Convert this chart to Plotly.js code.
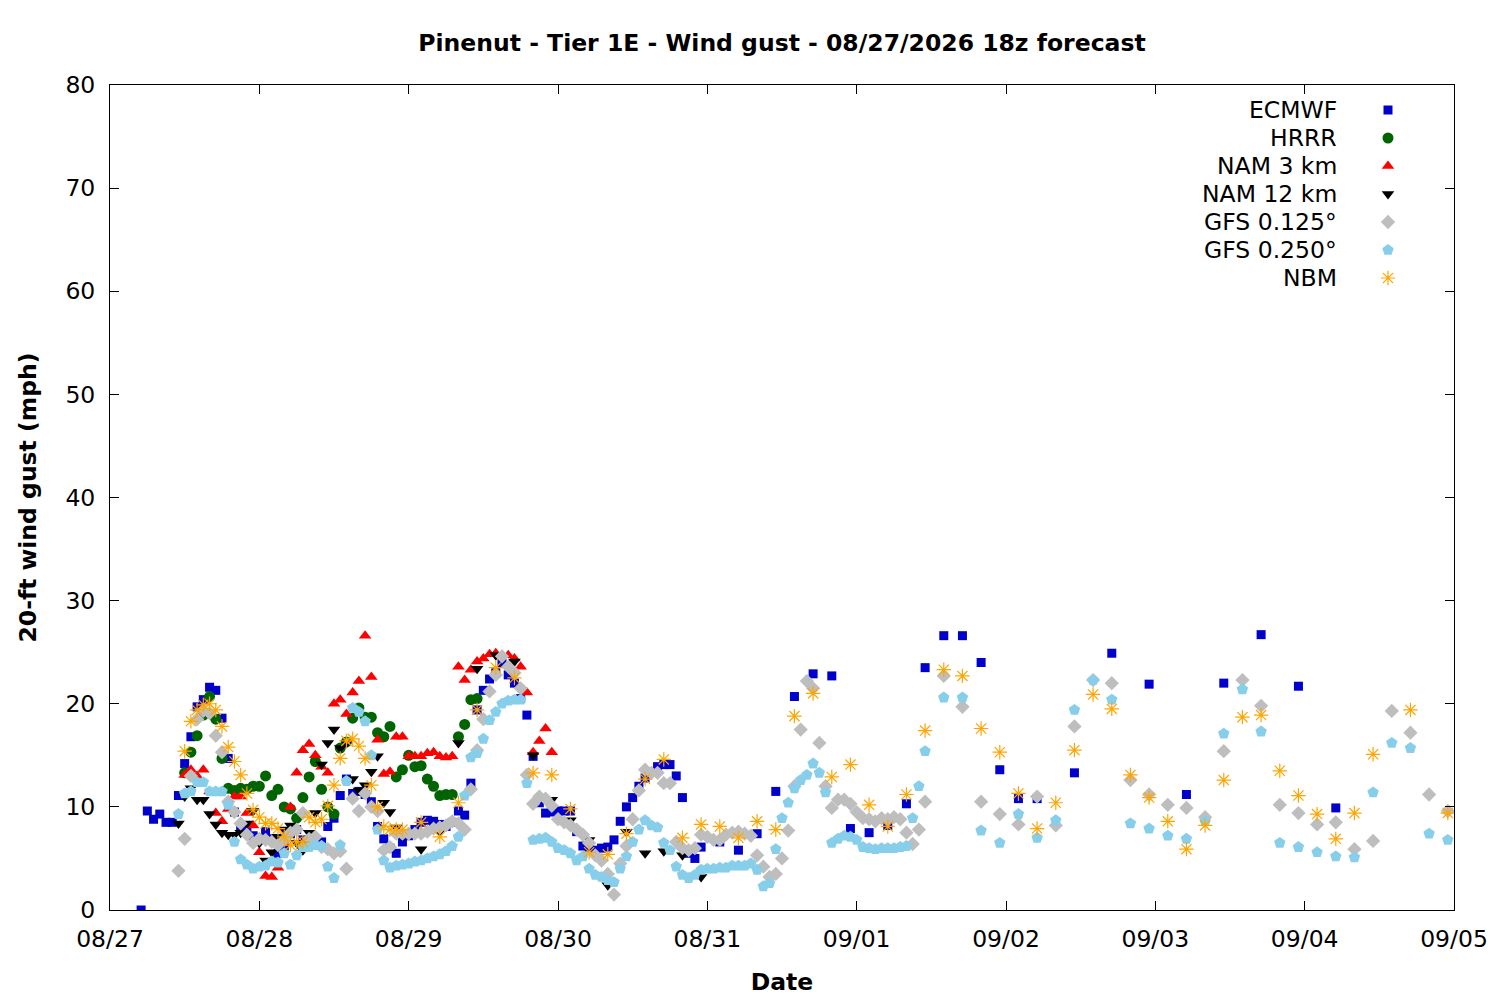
<!DOCTYPE html>
<html>
<head>
<meta charset="utf-8">
<script src="https://cdn.plot.ly/plotly-3.0.1.min.js"></script>
<style>
  html, body { margin: 0; padding: 0; background: #ffffff; }
  #chart { width: 1500px; height: 1000px; }
</style>
</head>
<body>
<div id="chart"></div>
<script>
// Forecast hours are counted from 08/27 00:00 local time.
// Each run is hourly at first, then 3-hourly (and 6-hourly for some).

// ECMWF
const ecmwfHourlyStart = 5;
const ecmwfHourly = [
  0, 9.6, 8.8, 9.3, 8.5, 8.5, 11.1, 14.2, 16.8, 19.7,
  20.4, 21.6, 21.3, 18.6, 14.7, 9.5, 8.1, 7.8, 7.2, 7.0,
  7.6, 6.9, 5.5, 6.2, 7.4, 7.8, 6.8, 6.4, 6.5, 6.6,
  8.1, 8.9, 11.1, 12.7, 11.3, 11.5, 11.2, 10.5, 8.1, 6.9,
  6.0, 5.5, 6.6, 7.2, 7.8, 8.5, 8.7, 8.6, 8.3, 8.1,
  8.5, 9.6, 9.2, 12.3, 19.4, 21.3, 22.4, 23.0, 23.9, 22.8,
  22.0, 20.5, 18.9, 14.9, 10.4, 9.4, 9.5, 9.6, 9.6, 9.6,
  7.6, 6.2, 6.1, 5.8, 6.0, 6.1, 6.8, 8.6, 10.0, 10.9,
  12.0, 12.8, 13.4, 13.9, 14.1, 14.1, 13.0, 10.9, 5.5, 5.0,
  6.1
];
const ecmwf3hStart = 98;
const ecmwf3h = [6.6, 5.8, 7.4, 11.5, 20.7, 22.9, 22.7, 7.9, 7.5, 8.2,
  10.3, 23.5, 26.6, 26.6, 24.0, 13.6, 10.8, 10.8];
const ecmwf6hStart = 155;
const ecmwf6h = [13.3, 24.9, 21.9, 11.2, 22.0, 26.7, 21.7, 9.9];

// HRRR
const hrrrStart = 12;
const hrrr = [
  13.3, 15.3, 16.9, 18.9, 20.7, 18.5, 14.7, 11.8, 11.6, 11.8,
  11.7, 12.0, 12.0, 13.0, 11.1, 11.7, 10.0, 9.8, 8.9, 10.9,
  12.9, 14.4, 11.7, 10.0, 9.3, 15.7, 16.3, 18.6, 19.6, 18.7,
  18.7, 17.2, 16.8, 17.8, 12.9, 13.6, 15.0, 13.9, 14.0, 12.7,
  12.0, 11.1, 11.2, 11.2, 16.8, 18.0, 20.4, 20.5
];

// NAM 3 km
const nam3Start = 12;
const nam3 = [
  13.1, 13.6, 13.0, 13.6, 11.5, 9.4, 8.6, 9.8, 11.0, 11.0,
  9.4, 8.2, 5.6, 3.3, 3.2, 4.1, 6.5, 10.0, 13.3, 15.5,
  16.1, 15.0, 13.9, 13.3, 20.0, 20.4, 19.0, 21.1, 22.2, 26.6,
  22.6, 16.5, 13.2, 13.4, 16.8, 16.8, 14.9, 14.9, 14.9, 15.2,
  15.3, 14.9, 14.8, 14.9, 23.6, 22.3, 23.3, 24.1, 24.4, 24.8,
  24.9, 24.7, 24.7, 24.4, 23.6, 21.1, 15.3, 16.4, 17.6, 15.3
];

// NAM 12 km
const nam12HourlyStart = 11;
const nam12Hourly = [
  8.4, 11.0, 11.8, 10.7, 10.7, 9.3, 8.3, 7.5, 7.3, 7.3,
  7.5, 8.4, 9.6, 6.5, 4.8, 5.6, 7.1, 7.8, 8.2, 6.5,
  5.8, 7.5, 9.4, 14.1, 16.2, 17.5, 15.7, 16.2, 12.7, 11.6,
  12.1, 13.4, 14.9, 10.4, 9.5, 8.0, 7.2
];
const nam12ThreeHourStart = 50;
const nam12ThreeHour = [5.9, 7.6, 16.2, 23.4, 24.7, 24.1, 15.0, 10.7, 8.7, 6.8,
  2.4, 7.6, 5.5, 5.7, 5.3, 3.2];

// GFS 0.125 deg
const gfs125HourlyStart = 11;
const gfs125Hourly = [
  3.8, 6.9, 13.0, 18.5, 19.3, 19.1, 16.9, 15.3, 10.5, 9.5,
  8.4, 7.3, 6.5, 6.9, 6.8, 6.6, 6.3, 6.8, 7.5, 7.8,
  9.4, 6.9, 7.1, 6.1, 5.9, 5.5, 5.7, 4.0, 10.8, 9.6,
  11.3, 10.0, 9.6, 5.8, 6.1, 7.4, 7.4, 7.4, 7.4, 7.4,
  7.6, 7.9, 8.0, 8.2, 8.6, 8.4, 7.8, 11.7, 15.5, 18.5,
  21.2, 22.8, 24.6, 23.6, 23.0, 21.5, 13.1, 10.3, 11.0, 10.8,
  10.1, 8.8, 8.5, 8.2, 7.8, 7.3, 6.5, 5.3, 4.8, 3.5,
  1.5, 4.5, 6.2, 8.8, 11.6, 13.6, 13.3, 13.3, 12.3, 12.3,
  6.6, 6.0, 5.8, 6.0, 7.3, 7.1, 6.8, 6.8, 7.3, 7.5,
  7.6, 7.4, 7.2, 5.3, 4.2, 3.2, 3.5, 5.0, 7.7, 12.0,
  17.5, 22.2, 21.5, 16.2, 12.0, 9.9, 10.7, 10.7, 10.3, 9.5,
  8.9, 8.8, 8.6, 8.9, 8.8, 9.0, 8.8, 7.5, 6.4, 7.8,
  10.5
];
const gfs125ThreeHourStart = 134;
const gfs125ThreeHour = [
  22.7, 19.7, 10.5, 9.3, 8.3, 11.0, 8.2, 17.8, 22.3, 22.0,
  12.6, 11.2, 10.2, 9.9, 9.0, 15.4, 22.3, 19.8, 10.2, 9.4,
  8.3, 8.5, 5.9, 6.7, 19.3, 17.2, 11.2, 9.6
];

// GFS 0.250 deg
const gfs250HourlyStart = 11;
const gfs250Hourly = [
  9.3, 11.3, 11.5, 12.4, 12.4, 11.5, 11.5, 11.5, 10.2, 6.6,
  4.9, 4.4, 4.0, 4.2, 4.3, 4.7, 4.6, 5.5, 4.4, 5.3,
  6.1, 6.1, 6.3, 6.2, 4.2, 3.1, 6.3, 12.5, 19.6, 19.2,
  18.3, 15.0, 7.8, 4.8, 4.1, 4.3, 4.4, 4.5, 4.7, 4.8,
  5.0, 5.2, 5.4, 5.7, 6.2, 7.1, 11.1, 14.8, 15.2, 16.6,
  18.4, 19.2, 20.0, 20.3, 20.4, 20.4, 12.3, 6.8, 6.9, 7.0,
  6.6, 6.0, 5.8, 5.5, 4.8, 5.2, 4.0, 3.4, 3.2, 2.9,
  2.7, 4.0, 5.2, 6.6, 7.8, 8.7, 8.2, 8.0, 6.5, 5.8,
  4.2, 3.4, 3.1, 3.4, 3.9, 4.0, 4.0, 4.1, 4.1, 4.3,
  4.3, 4.3, 4.5, 3.9, 2.3, 2.6, 5.9, 8.9, 10.4, 11.8,
  12.6, 13.1, 14.2, 13.3, 11.4, 6.5, 6.9, 7.2, 7.1, 6.8,
  6.1, 6.0, 5.9, 6.0, 6.0, 6.0, 6.1, 6.2, 8.9, 12.0,
  15.4
];
const gfs250ThreeHourStart = 134;
const gfs250ThreeHour = [
  20.6, 20.6, 7.7, 6.5, 9.3, 7.0, 8.7, 19.4, 22.3, 20.4,
  8.4, 7.9, 7.2, 6.9, 8.6, 17.1, 21.4, 17.3, 6.5, 6.1,
  5.6, 5.2, 5.1, 11.4, 16.2, 15.7, 7.4, 6.8
];

// NBM
const nbmHourlyStart = 12;
const nbmHourly = [
  15.4, 18.3, 19.4, 19.9, 20.0, 19.4, 17.8, 15.8, 14.4, 13.1,
  11.3, 9.7, 9.0, 8.4, 8.4, 7.9, 7.1, 6.3, 6.6, 6.6,
  9.0, 8.5, 8.8, 10.1, 12.1, 14.7, 16.4, 16.6, 15.9, 14.7,
  12.1, 10.0, 8.1, 7.8, 7.8, 7.8
];
const nbmThreeHourStart = 50;
const nbmThreeHour = [
  8.5, 7.1, 10.4, 19.4, 23.5, 22.5, 13.3, 13.1, 9.8, 5.6,
  5.4, 7.4, 12.7, 14.6, 7.0, 8.3, 8.1, 7.0, 8.6, 7.8,
  18.8, 21.0, 12.9, 14.1, 10.2, 8.1, 11.2, 17.4, 23.3, 22.7,
  17.6, 15.3, 11.3, 7.9, 10.4, 15.5, 20.9, 19.5, 13.1, 10.9,
  8.6, 5.9, 8.2, 12.6, 18.7, 18.9, 13.5, 11.1, 9.3, 6.9,
  9.4, 15.1
];
const nbmSixHourStart = 209;
const nbmSixHour = [19.4, 9.4];

// Legend labels in plot order
const modelNames = ['ECMWF', 'HRRR', 'NAM 3 km', 'NAM 12 km', 'GFS 0.125°', 'GFS 0.250°', 'NBM'];

const BASE = Date.UTC(2026, 7, 27, 0, 0, 0);

function hourToDate(h) {
  return new Date(BASE + h * 3600000).toISOString().slice(0, 19).replace('T', ' ');
}

// hours for a run segment: start, start+step, ...
function segment(start, step, values) {
  return values.map((v, i) => hourToDate(start + i * step));
}

function series(segments) {
  let x = [], y = [];
  segments.forEach(s => {
    x = x.concat(segment(s[0], s[1], s[2]));
    y = y.concat(s[2]);
  });
  return { x, y };
}

const styles = [
  { symbol: 'square', size: 9, color: '#0000cc' },
  { symbol: 'circle', size: 11, color: '#006400' },
  { symbol: 'triangle-up', size: 11, color: '#ff0000' },
  { symbol: 'triangle-down', size: 11, color: '#000000' },
  { symbol: 'diamond', size: 11, color: '#bebebe' },
  { symbol: 'pentagon', size: 12, color: '#87ceeb' },
  { symbol: 'asterisk-open', size: 12, color: '#ffa500' }
];

const runs = [
  series([[ecmwfHourlyStart, 1, ecmwfHourly], [ecmwf3hStart, 3, ecmwf3h], [ecmwf6hStart, 6, ecmwf6h]]),
  series([[hrrrStart, 1, hrrr]]),
  series([[nam3Start, 1, nam3]]),
  series([[nam12HourlyStart, 1, nam12Hourly], [nam12ThreeHourStart, 3, nam12ThreeHour]]),
  series([[gfs125HourlyStart, 1, gfs125Hourly], [gfs125ThreeHourStart, 3, gfs125ThreeHour]]),
  series([[gfs250HourlyStart, 1, gfs250Hourly], [gfs250ThreeHourStart, 3, gfs250ThreeHour]]),
  series([[nbmHourlyStart, 1, nbmHourly], [nbmThreeHourStart, 3, nbmThreeHour], [nbmSixHourStart, 6, nbmSixHour]])
];

function markerFor(st) {
  if (st.symbol === 'asterisk-open') {
    return { symbol: st.symbol, size: st.size, color: st.color, line: { color: st.color, width: 1.2 } };
  }
  return { symbol: st.symbol, size: st.size, color: st.color, line: { width: 0 } };
}

const traces = runs.map((r, i) => ({
  type: 'scatter',
  mode: 'markers',
  name: modelNames[i],
  x: r.x,
  y: r.y,
  marker: markerFor(styles[i]),
  showlegend: false,
  hoverinfo: 'x+y+name'
}));

// gnuplot style key: label on the left, symbol on the right
const keyTop = 110, keyStep = 28;
const plotTop = 85, plotBottom = 910, plotLeft = 110, plotRight = 1454;
const keyY = modelNames.map((n, i) => (plotBottom - (keyTop + i * keyStep)) / (plotBottom - plotTop));
const keySymbolX = (1388 - plotLeft) / (plotRight - plotLeft);
const keyTextX = (1339 - plotLeft) / (plotRight - plotLeft);

modelNames.forEach((n, i) => {
  traces.push({
    type: 'scatter',
    mode: 'markers',
    x: [keySymbolX],
    y: [keyY[i]],
    xaxis: 'x2',
    yaxis: 'y2',
    marker: markerFor(styles[i]),
    showlegend: false,
    hoverinfo: 'skip'
  });
});

const keyAnnotations = modelNames.map((n, i) => ({
  text: n,
  xref: 'paper', yref: 'paper',
  x: keyTextX, y: keyY[i],
  xanchor: 'right', yanchor: 'middle',
  showarrow: false,
  font: { family: 'DejaVu Sans', size: 23.5, color: '#000000' }
}));

const axisFont = { family: 'DejaVu Sans', size: 23.5, color: '#000000' };

const layout = {
  width: 1500,
  height: 1000,
  margin: { l: plotLeft, r: 1500 - plotRight, t: plotTop, b: 1000 - plotBottom },
  paper_bgcolor: '#ffffff',
  plot_bgcolor: '#ffffff',
  font: axisFont,
  showlegend: false,
  title: {
    text: '<b>Pinenut - Tier 1E - Wind gust - 08/27/2026 18z forecast</b>',
    font: { family: 'DejaVu Sans', size: 23.5, color: '#000000' },
    xref: 'paper', x: 0.5, xanchor: 'center',
    yref: 'container', y: 1 - 43 / 1000, yanchor: 'middle'
  },
  xaxis: {
    type: 'date',
    range: [hourToDate(0), hourToDate(216)],
    tick0: hourToDate(0),
    dtick: 86400000,
    tickformat: '%m/%d',
    ticks: 'inside',
    ticklen: 9,
    tickcolor: '#000000',
    tickwidth: 1,
    ticklabelstandoff: 8,
    showline: true,
    linecolor: '#000000',
    linewidth: 1,
    mirror: 'ticks',
    showgrid: false,
    zeroline: false,
    tickfont: axisFont,
    title: { text: '<b>Date</b>', font: axisFont, standoff: 21 }
  },
  yaxis: {
    range: [0, 80],
    dtick: 10,
    ticks: 'inside',
    ticklen: 9,
    tickcolor: '#000000',
    tickwidth: 1,
    ticklabelstandoff: 9,
    showline: true,
    linecolor: '#000000',
    linewidth: 1,
    mirror: 'ticks',
    showgrid: false,
    zeroline: false,
    tickfont: axisFont,
    title: { text: '<b>20-ft wind gust (mph)</b>', font: axisFont, standoff: 22 }
  },
  xaxis2: { overlaying: 'x', range: [0, 1], visible: false, fixedrange: true },
  yaxis2: { overlaying: 'y', range: [0, 1], visible: false, fixedrange: true },
  annotations: keyAnnotations
};

Plotly.newPlot('chart', traces, layout, { displayModeBar: false, staticPlot: true });
</script>
</body>
</html>
